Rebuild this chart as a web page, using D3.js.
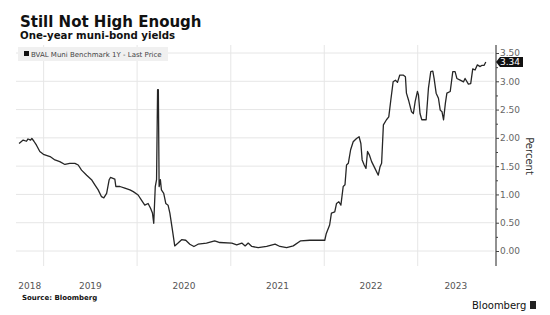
<!DOCTYPE html>
<html>
<head>
<meta charset="utf-8">
<script src="https://cdn.jsdelivr.net/npm/d3@7"></script>
<style>
  body { margin: 0; background: #fff; }
  svg { display: block; font-family: "DejaVu Sans", sans-serif; }
</style>
</head>
<body>
<svg width="550" height="315"></svg>
<script>
// one-year muni yields
const dates = [
  '2018-09-27','2018-10-13','2018-10-26','2018-11-01','2018-11-11','2018-11-16','2018-11-24','2018-12-04','2018-12-17','2018-12-31',
  '2019-01-26','2019-02-14','2019-03-05','2019-03-25','2019-04-13','2019-05-03','2019-05-16','2019-05-29','2019-06-18','2019-07-07',
  '2019-07-20','2019-08-02','2019-08-15','2019-08-24','2019-09-04','2019-09-14','2019-09-19','2019-10-06','2019-10-10','2019-10-26',
  '2019-11-14','2019-12-04','2019-12-17','2020-01-05','2020-01-18','2020-01-31','2020-02-13','2020-02-23','2020-03-01','2020-03-06',
  '2020-03-12','2020-03-17','2020-03-21','2020-03-24','2020-03-27','2020-04-01','2020-04-05','2020-04-14','2020-04-22','2020-05-01',
  '2020-05-08','2020-05-18','2020-05-27','2020-06-09','2020-06-23','2020-07-09','2020-07-25','2020-08-10','2020-08-26','2020-09-28',
  '2020-10-30','2020-11-19','2021-01-05','2021-01-24','2021-02-13','2021-02-26','2021-03-10','2021-03-24','2021-04-18','2021-05-21',
  '2021-06-23','2021-07-12','2021-08-07','2021-09-02','2021-10-01','2021-11-06','2021-12-08','2022-01-03','2022-01-09','2022-01-22',
  '2022-01-29','2022-02-11','2022-02-18','2022-02-27','2022-03-07','2022-03-16','2022-03-23','2022-03-29','2022-04-05','2022-04-14',
  '2022-04-24','2022-05-07','2022-05-17','2022-05-24','2022-05-29','2022-06-06','2022-06-13','2022-06-19','2022-06-26','2022-07-05',
  '2022-07-18','2022-07-31','2022-08-07','2022-08-13','2022-08-20','2022-09-01','2022-09-10','2022-09-18','2022-09-27','2022-10-06',
  '2022-10-14','2022-10-23','2022-11-05','2022-11-14','2022-11-18','2022-11-26','2022-12-08','2022-12-15','2022-12-22','2022-12-31',
  '2023-01-04','2023-01-10','2023-01-17','2023-02-03','2023-02-12','2023-02-21','2023-03-01','2023-03-06','2023-03-14','2023-03-23',
  '2023-03-30','2023-04-06','2023-04-12','2023-04-19','2023-04-25','2023-05-08','2023-05-18','2023-05-27','2023-06-03','2023-06-16',
  '2023-06-29','2023-07-05','2023-07-18','2023-07-27','2023-08-04','2023-08-13','2023-08-22','2023-09-02','2023-09-08','2023-09-17',
  '2023-09-24'
];
const yields = [
  1.90,1.96,1.94,1.98,1.96,1.99,1.94,1.87,1.76,1.71,
  1.67,1.61,1.58,1.53,1.55,1.55,1.52,1.43,1.34,1.26,
  1.17,1.08,0.96,0.94,1.02,1.26,1.30,1.27,1.14,1.14,
  1.11,1.08,1.05,0.99,0.90,0.81,0.84,0.75,0.67,0.49,
  1.14,1.26,2.85,2.85,1.14,1.26,1.08,1.02,0.84,0.81,
  0.67,0.37,0.09,0.14,0.20,0.19,0.12,0.08,0.12,0.14,
  0.18,0.15,0.14,0.11,0.14,0.09,0.14,0.08,0.06,0.08,
  0.12,0.08,0.06,0.09,0.18,0.19,0.19,0.19,0.31,0.46,
  0.67,0.69,0.84,0.87,0.81,1.14,1.17,1.52,1.55,1.79,
  1.93,1.99,2.02,1.90,1.61,1.52,1.46,1.76,1.70,1.58,
  1.46,1.34,1.49,1.55,2.23,2.32,2.37,2.67,2.99,3.02,
  2.98,3.11,3.11,3.08,2.79,2.67,2.46,2.43,2.64,2.82,
  2.76,2.43,2.32,2.32,2.88,3.17,3.18,3.05,2.79,2.70,
  2.49,2.46,2.32,2.61,2.79,2.82,3.17,3.17,3.05,3.02,
  2.99,3.05,2.95,2.96,3.22,3.20,3.29,3.26,3.28,3.28,
  3.34
];
const yTicks = [0, 0.5, 1, 1.5, 2, 2.5, 3, 3.5];
const yMinor = [0.25, 0.75, 1.25, 1.75, 2.25, 2.75, 3.25];
const years = [2018, 2019, 2020, 2021, 2022, 2023];

const parse = d3.utcParse('%Y-%m-%d');
const series = dates.map((d, i) => ({ date: parse(d), val: yields[i] }));

const svg = d3.select('svg');
const plotL = 16, plotR = 494, plotT = 45, plotB = 266;

const x = d3.scaleUtc()
  .domain([parse('2018-09-15'), parse('2023-10-26')])
  .range([plotL, plotR]);
const y = d3.scaleLinear()
  .domain([0, 3.5])
  .range([251, 53]);

// gridlines
const yearStarts = years.slice(1).map(yr => new Date(Date.UTC(yr, 0, 1)));
svg.append('g').selectAll('line')
  .data(yearStarts).join('line')
  .attr('x1', d => x(d)).attr('x2', d => x(d))
  .attr('y1', plotT).attr('y2', plotB)
  .attr('stroke', '#e6e6e6').attr('stroke-width', 1);
svg.append('g').selectAll('line')
  .data(yTicks).join('line')
  .attr('x1', plotL).attr('x2', plotR)
  .attr('y1', d => y(d)).attr('y2', d => y(d))
  .attr('stroke', '#e6e6e6').attr('stroke-width', 1);

// legend
svg.append('rect').attr('x', 18).attr('y', 47).attr('width', 150).attr('height', 14).attr('fill', '#f0f0f0');
svg.append('rect').attr('x', 24).attr('y', 51).attr('width', 5).attr('height', 5).attr('fill', '#111');
svg.append('text').attr('x', 31).attr('y', 56.5)
  .attr('font-size', 7).attr('fill', '#444')
  .text('BVAL Muni Benchmark 1Y - Last Price');

// line
svg.append('path')
  .datum(series)
  .attr('fill', 'none')
  .attr('stroke', '#262626')
  .attr('stroke-width', 1.3)
  .attr('stroke-linejoin', 'round')
  .attr('d', d3.line().x(d => x(d.date)).y(d => y(d.val)));

// y axis on the right
const axisX = plotR + 2;
svg.append('line').attr('x1', axisX).attr('x2', axisX).attr('y1', plotT).attr('y2', plotB)
  .attr('stroke', '#222').attr('stroke-width', 1);
const yAxis = svg.append('g').attr('transform', `translate(${axisX},0)`)
  .call(d3.axisRight(y).tickValues(yTicks).tickSize(3).tickPadding(1).tickFormat(d3.format('.2f')));
yAxis.select('.domain').remove();
yAxis.selectAll('line').attr('stroke', '#444');
yAxis.selectAll('text').attr('font-size', 9).attr('fill', '#666').attr('font-family', '"DejaVu Sans", sans-serif');
const yMin = svg.append('g').attr('transform', `translate(${axisX},0)`)
  .call(d3.axisRight(y).tickValues(yMinor).tickSize(2).tickFormat(''));
yMin.select('.domain').remove();
yMin.selectAll('line').attr('stroke', '#444');

// last price tag
const last = series[series.length - 1];
const ly = y(last.val);
svg.append('path')
  .attr('d', `M${axisX},${ly} L${axisX + 4},${ly - 5} L${axisX + 27},${ly - 5} L${axisX + 27},${ly + 5} L${axisX + 4},${ly + 5} Z`)
  .attr('fill', '#111');
svg.append('text').attr('x', axisX + 4).attr('y', ly + 3.3)
  .attr('font-size', 9).attr('fill', '#fff')
  .attr('font-family', '"DejaVu Sans", sans-serif')
  .text(d3.format('.2f')(last.val));

svg.append('text')
  .attr('transform', `translate(526,156) rotate(90)`)
  .attr('text-anchor', 'middle')
  .attr('font-size', 10).attr('fill', '#333')
  .text('Percent');

// year labels centred in each visible year
const [d0, d1] = x.domain();
svg.append('g').selectAll('text')
  .data(years).join('text')
  .attr('x', yr => {
    const s = new Date(Math.max(Date.UTC(yr, 0, 1), d0));
    const e = new Date(Math.min(Date.UTC(yr + 1, 0, 1), d1));
    return (x(s) + x(e)) / 2;
  })
  .attr('y', 289)
  .attr('text-anchor', 'middle')
  .attr('font-size', 9).attr('fill', '#555')
  .text(d => d);

// titles
svg.append('text').attr('x', 20).attr('y', 26.5)
  .attr('font-size', 15).attr('font-weight', 'bold').attr('fill', '#111')
  .text('Still Not High Enough');
svg.append('text').attr('x', 20).attr('y', 39)
  .attr('font-size', 10.2).attr('font-weight', 'bold').attr('fill', '#111')
  .text('One-year muni-bond yields');

// footer
svg.append('text').attr('x', 22).attr('y', 300)
  .attr('font-size', 7).attr('font-weight', 'bold').attr('fill', '#111')
  .text('Source: Bloomberg');
svg.append('text').attr('x', 472).attr('y', 309)
  .attr('font-size', 10).attr('fill', '#111')
  .text('Bloomberg');
svg.append('rect').attr('x', 530).attr('y', 301).attr('width', 6).attr('height', 8).attr('fill', '#222');
</script>
</body>
</html>
